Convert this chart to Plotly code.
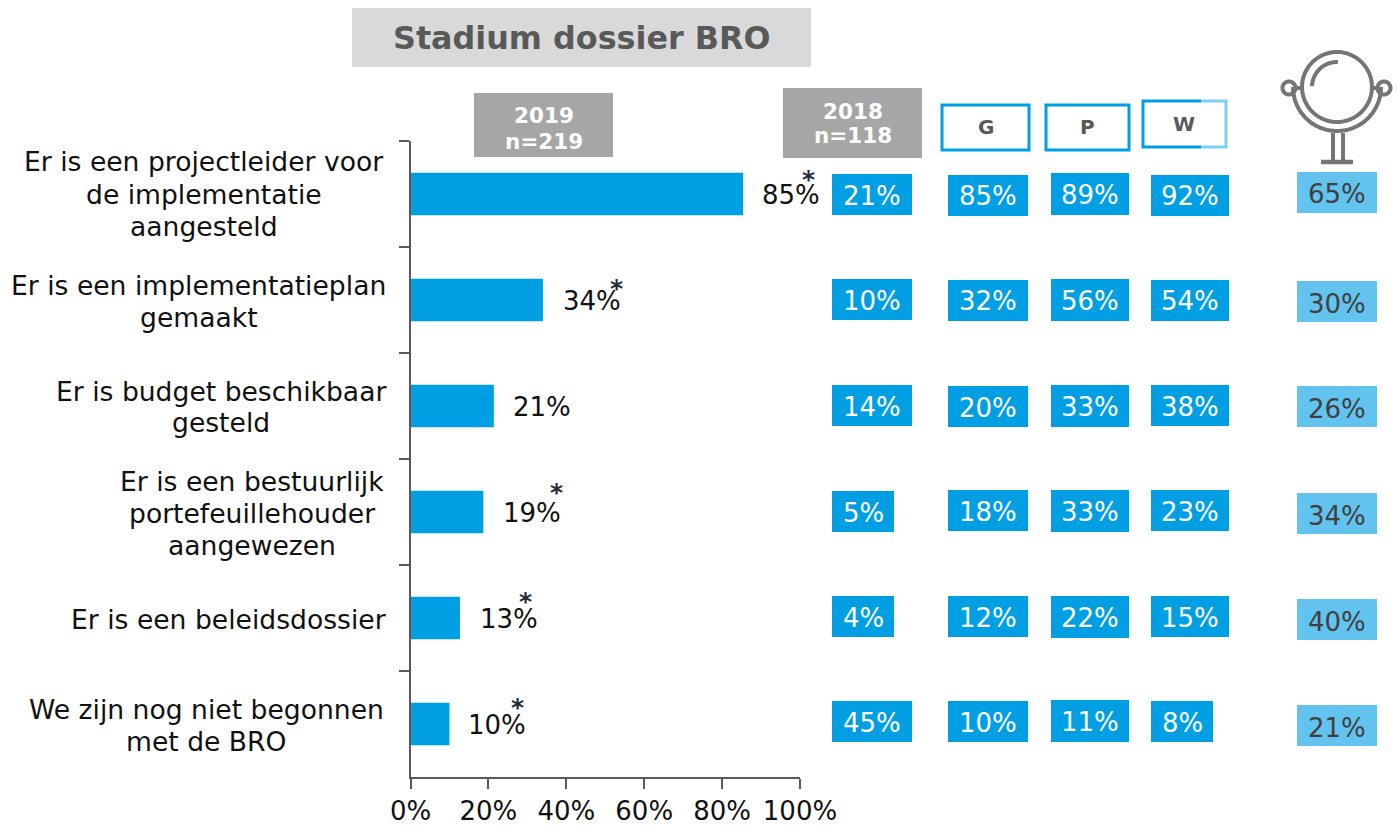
import numpy as np
import plotly.graph_objects as go

W, H = 1397, 827
categories = ["Er is een projectleider voor<br>de implementatie<br>aangesteld",
              "Er is een implementatieplan<br>gemaakt",
              "Er is budget beschikbaar<br>gesteld",
              "Er is een bestuurlijk<br>portefeuillehouder<br>aangewezen",
              "Er is een beleidsdossier",
              "We zijn nog niet begonnen<br>met de BRO"]
values_2019 = [85.4, 34, 21.4, 18.7, 12.7, 10]
significant = [True, True, False, True, True, True]
values_2018 = [21, 10, 14, 5, 4, 45]
values_g = [85, 32, 20, 18, 12, 10]
values_p = [89, 56, 33, 33, 22, 11]
values_w = [92, 54, 38, 23, 15, 8]
values_mirror = [65, 30, 26, 34, 40, 21]

BLUE = "#009FE3"
LIGHT = "#63C3EF"
GREY = "#595959"
FONT = "DejaVu Sans"
FS = 26


def px(x):
    return x / W


def py(y):
    return 1 - y / H


shapes, ann = [], []


def rect(x0, y0, x1, y1, fill, line=None, lw=0):
    shapes.append(dict(type="rect", xref="paper", yref="paper", x0=px(x0), x1=px(x1), y0=py(y0), y1=py(y1),
                       fillcolor=fill, line=dict(color=line or fill, width=lw), layer="below"))


def text(x, y, s, size=FS, color="#111111", bold=False, xanchor="center", align="center"):
    ann.append(dict(xref="paper", yref="paper", x=px(x), y=py(y), text=f"<b>{s}</b>" if bold else s, showarrow=False,
                    xanchor=xanchor, yanchor="middle", align=align, font=dict(family=FONT, size=size, color=color)))


def stroke(points, color="#757575", width=4):
    path = "M" + " L".join(f"{px(x):.5f},{py(y):.5f}" for x, y in points)
    shapes.append(dict(type="path", xref="paper", yref="paper", path=path,
                       line=dict(color=color, width=width), fillcolor="rgba(0,0,0,0)"))


def arc(cx, cy, r, a0, a1, **kw):
    t = np.radians(np.linspace(a0, a1, 60))
    stroke(list(zip(cx + r * np.cos(t), cy - r * np.sin(t))), **kw)


# title and header boxes
rect(352, 8, 811, 67, "#D9D9D9")
text(581, 38, "Stadium dossier BRO", size=31.8, color=GREY, bold=True)
rect(474, 93, 613, 157, "#A6A6A6")
text(544, 115, "2019", size=21.5, color="white", bold=True)
text(544, 141, "n=219", size=21.5, color="white", bold=True)
rect(783, 88, 922, 158, "#A6A6A6")
text(853, 111, "2018", size=21.5, color="white", bold=True)
text(853, 136, "n=118", size=21.5, color="white", bold=True)
for x0, x1, y0, y1, s in [(942, 1029, 105, 150, "G"), (1046, 1129, 105, 150, "P")]:
    rect(x0, y0, x1, y1, "white", BLUE, 3)
    text((x0 + x1) / 2, (y0 + y1) / 2, s, size=20, color=GREY, bold=True)
stroke([(1201, 101), (1143, 101), (1143, 147), (1201, 147)], color=BLUE, width=3)
stroke([(1201, 101), (1226, 101), (1226, 147), (1201, 147)], color="#7BCFF2", width=3)
text(1184, 124, "W", size=20, color=GREY, bold=True)

# side value columns
columns = [(832, 912, values_2018, BLUE, "white", [174, 279, 385, 491, 596, 701], 41, 1.5),
           (948, 1028, values_g, BLUE, "white", [175, 280, 386, 490, 596, 701], 41, 1),
           (1051, 1129, values_p, BLUE, "white", [173, 279, 385, 490, 596, 700], 42, 1),
           (1151, 1229, values_w, BLUE, "white", [175, 280, 385, 490, 596, 701], 41, 1),
           (1297, 1377, values_mirror, LIGHT, "#404040", [172, 281, 386, 493, 599, 705], 41, 2)]
for x0, x1, vals, fill, col, tops, h, nudge in columns:
    for v, top in zip(vals, tops):
        right = x0 + 62 if v < 10 else x1
        rect(x0, top, right, top + h, fill)
        text((x0 + right) / 2, top + h / 2 + nudge, f"{v}%", color=col)

# mirror icon
cx, cy = 1337, 87
arc(cx, cy, 35, 0, 360)
arc(cx, cy, 25, 88, 178)
arc(cx, cy, 44, 180, 360)
arc(1289, 88, 6.5, 0, 360)
arc(1384, 88, 6.5, 0, 360)
stroke([(1296, 88), (1303, 88)])
stroke([(1371, 88), (1378, 88)])
stroke([(1333, 133), (1333, 161)])
stroke([(1343, 133), (1343, 161)])
stroke([(1321, 162), (1353, 162)], width=4.5)

# category labels, drawn line by line at the reference's line spacing
label_centres = [204, 198.5, 220.5, 252, 228, 206]
label_ys = [194, 301, 407, 513, 619, 725]
for c, xc, y in zip(categories, label_centres, label_ys):
    lines = c.split("<br>")
    for j, line in enumerate(lines):
        text(xc, y + (j - (len(lines) - 1) / 2) * 32, line, size=26.6)

label_shift = [49, 49, 50, 47, 48, 48]
star_x = [67, 74, 0, 72, 64, 68]
star_y = [15, 12, 0, 20, 17, 17]
for i, (cat, v, sig) in enumerate(zip(categories, values_2019, significant)):
    shown = round(v)
    ann.append(dict(xref="x", yref="y", x=shown, y=cat, xshift=label_shift[i], yshift=-1, text=f"{shown}%",
                    showarrow=False, xanchor="center", yanchor="middle",
                    font=dict(family=FONT, size=FS, color="#111111")))
    if sig:
        ann.append(dict(xref="x", yref="y", x=shown, y=cat, xshift=star_x[i], yshift=star_y[i],
                        text="<b>*</b>", showarrow=False, xanchor="center", yanchor="middle",
                        font=dict(family=FONT, size=25, color="#1F2D3A")))

fig = go.Figure(go.Bar(x=values_2019, y=categories, orientation="h", marker=dict(color=BLUE, line=dict(width=0)),
                       width=0.4, hoverinfo="skip"))
fig.update_layout(width=W, height=H, margin=dict(l=0, r=0, t=0, b=0, pad=0, autoexpand=False),
                  paper_bgcolor="white", plot_bgcolor="white", showlegend=False, shapes=shapes, annotations=ann)
fig.update_xaxes(domain=[px(410.5), px(800)], range=[0, 100], tickvals=[0, 20, 40, 60, 80, 100],
                 ticktext=["0%", "20%", "40%", "60%", "80%", "100%"], ticks="outside", ticklen=10, tickwidth=2,
                 tickcolor=GREY, showline=True, linecolor=GREY, linewidth=2, showgrid=False, zeroline=False,
                 tickfont=dict(family=FONT, size=26, color="#111111"), anchor="y")
fig.update_yaxes(domain=[py(777), py(141)], type="category", categoryorder="array", categoryarray=categories,
                 autorange="reversed", ticks="outside", tickson="boundaries", ticklen=10, tickwidth=2,
                 tickcolor=GREY, showline=True, linecolor=GREY, linewidth=2, showgrid=False, zeroline=False,
                 showticklabels=False, anchor="x")
fig.write_html("out.html", config=dict(displayModeBar=False),
               post_script="document.body.style.margin='0';document.documentElement.style.overflow='hidden';")
